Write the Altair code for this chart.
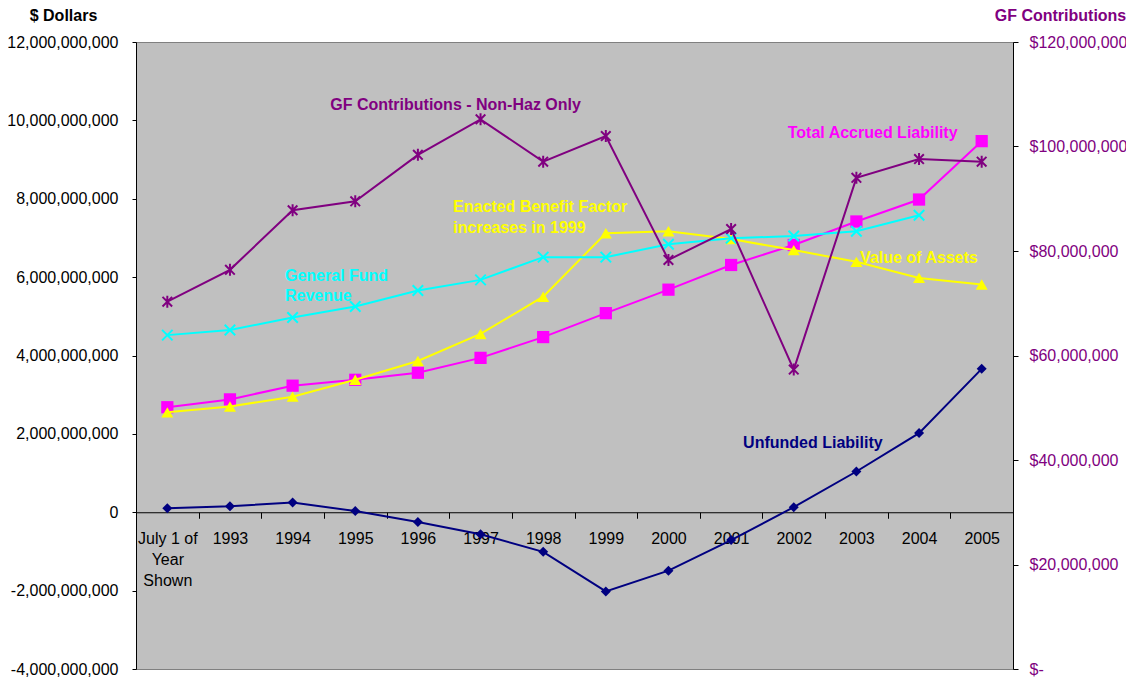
import altair as alt
import pandas as pd

# ---- data ----
years = ["July 1 of|Year|Shown", "1993", "1994", "1995", "1996", "1997", "1998",
         "1999", "2000", "2001", "2002", "2003", "2004", "2005"]

# left axis, billions of dollars
total_accrued = [2.68, 2.88, 3.23, 3.38, 3.56, 3.94, 4.47, 5.08, 5.68, 6.31, 6.82, 7.42, 7.98, 9.47]
value_assets = [2.55, 2.70, 2.95, 3.38, 3.86, 4.55, 5.50, 7.12, 7.17, 6.97, 6.69, 6.39, 5.98, 5.81]
gf_revenue = [4.52, 4.65, 4.97, 5.25, 5.66, 5.93, 6.51, 6.51, 6.84, 6.99, 7.05, 7.17, 7.58, None]
unfunded = [0.10, 0.15, 0.25, 0.03, -0.25, -0.56, -1.01, -2.02, -1.49, -0.71, 0.13, 1.04, 2.02, 3.66]
# right axis, millions of dollars
gf_contrib = [70.3, 76.4, 87.8, 89.5, 98.4, 105.2, 97.1, 102.0, 78.3, 84.2, 57.3, 94.0, 97.6, 97.1]

left_ticks = [-4e9, -2e9, 0, 2e9, 4e9, 6e9, 8e9, 10e9, 12e9]
right_ticks = [0, 20e6, 40e6, 60e6, 80e6, 100e6, 120e6]

# annotations: (group, anchor year, left-axis value in billions, text)
ann_group = ["gf", "ebf", "ebf", "gfr", "gfr", "tal", "voa", "ufl"]
ann_year = ["1995", "1997", "1997", "1994", "1994", "2002", "2003", "2001"]
ann_value = [10.38, 7.78, 7.25, 6.03, 5.51, 9.68, 6.50, 1.77]
ann_text = ["GF Contributions - Non-Haz Only", "Enacted Benefit Factor", "increases in 1999",
            "General Fund", "Revenue", "Total Accrued Liability", "Value of Assets",
            "Unfunded Liability"]

PURPLE = "#800080"
MAGENTA = "#FF00FF"
YELLOW = "#FFFF00"
CYAN = "#00FFFF"
NAVY = "#000080"
FONT = "Liberation Sans"

PLOT_W = 877
PLOT_H = 627
TOP = 34

rows = []
for name, vals in [("tal", total_accrued), ("voa", value_assets), ("gfr", gf_revenue), ("ufl", unfunded)]:
    for y, v in zip(years, vals):
        if v is not None:
            rows.append({"year": y, "series": name, "value": v * 1e9})
df_left = pd.DataFrame(rows)
df_right = pd.DataFrame({"year": years, "value": [v * 1e6 for v in gf_contrib]})
df_ann = pd.DataFrame({"group": ann_group, "year": ann_year,
                       "value": [v * 1e9 for v in ann_value], "text": ann_text})

x_axis = alt.Axis(title=None, orient="bottom", offset=-(PLOT_H * 4 / 16), labelAngle=0,
                  tickBand="extent", tickSize=6, labelPadding=12,
                  labelExpr="split(datum.label, '|')",
                  labelLineHeight=21, labelFontSize=16, labelFont=FONT, labelColor="black",
                  labelOverlap=False, labelFlush=False, labelBound=False,
                  domainColor="black", tickColor="black", grid=False)
X = alt.X("year:N", sort=years, bandPosition=0.5,
          scale=alt.Scale(type="band", paddingInner=0, paddingOuter=0), axis=x_axis)

left_axis = alt.Axis(orient="left", values=left_ticks, grid=False, tickSize=4, labelPadding=14,
                     labelExpr="(datum.value < 0 ? '-' : '') + format(abs(datum.value), ',')",
                     labelFontSize=16, labelFont=FONT, labelColor="black",
                     domainColor="black", tickColor="black",
                     title="$ Dollars", titleAngle=0, titleX=-73, titleY=7.5 - TOP,
                     titleAlign="center", titleBaseline="middle", titleFontSize=16,
                     titleFontWeight="bold", titleColor="black", titleFont=FONT)
Y_left = alt.Y("value:Q", scale=alt.Scale(domain=[-4e9, 12e9], nice=False, zero=False), axis=left_axis)

right_axis = alt.Axis(orient="right", values=right_ticks, grid=False, tickSize=5, labelPadding=11,
                      labelExpr="datum.value == 0 ? '$-' : '$' + format(datum.value, ',')",
                      labelFontSize=16, labelFont=FONT, labelColor=PURPLE,
                      domainColor="black", tickColor="black",
                      title="GF Contributions", titleAngle=0, titleX=47, titleY=7.5 - TOP,
                      titleAlign="center", titleBaseline="middle", titleFontSize=16,
                      titleFontWeight="bold", titleColor=PURPLE, titleFont=FONT)
Y_right = alt.Y("value:Q", scale=alt.Scale(domain=[0, 120e6], nice=False, zero=False), axis=right_axis)

STAR = "M-0.8,-0.8L0.8,0.8M-0.8,0.8L0.8,-0.8M0,-1L0,1"
XMARK = "M-1,-1L1,1M-1,1L1,-1"


def series(data, name, Y, color, shape, size, filled):
    base = alt.Chart(data)
    if name is not None:
        base = base.transform_filter(alt.datum.series == name)
    line = base.mark_line(color=color, strokeWidth=2).encode(x=X, y=Y)
    if filled:
        pts = base.mark_point(shape=shape, size=size, filled=True, fill=color, color=color,
                              opacity=1, strokeWidth=0).encode(x=X, y=Y)
    else:
        pts = base.mark_point(shape=shape, size=size, filled=False, color=color,
                              opacity=1, strokeWidth=2).encode(x=X, y=Y)
    return [line, pts]


def annotation(group, color, dx):
    return alt.Chart(df_ann).transform_filter(alt.datum.group == group).mark_text(
        align="left", baseline="middle", dx=dx, font=FONT, fontSize=16, fontWeight="bold",
        color=color).encode(x=X, y=Y_left, text="text:N")


left_layers = []
left_layers += series(df_left, "tal", Y_left, MAGENTA, "square", 150, True)
left_layers += series(df_left, "voa", Y_left, YELLOW, "triangle-up", 144, True)
left_layers += series(df_left, "gfr", Y_left, CYAN, XMARK, 110, False)
left_layers += series(df_left, "ufl", Y_left, NAVY, "diamond", 100, True)
left_layers += [
    annotation("gf", PURPLE, -25),
    annotation("ebf", YELLOW, -27.5),
    annotation("gfr", CYAN, -7.6),
    annotation("tal", MAGENTA, -6),
    annotation("voa", YELLOW, 3.6),
    annotation("ufl", NAVY, 12),
]
left_group = alt.layer(*left_layers)
right_group = alt.layer(*series(df_right, None, Y_right, PURPLE, STAR, 144, False))

chart = alt.layer(left_group, right_group).resolve_scale(y="independent").properties(
    width=PLOT_W, height=PLOT_H,
    padding={"left": 128, "top": TOP, "right": 113, "bottom": 8},
    autosize=alt.AutoSizeParams(type="none"),
).configure(background="white", font=FONT).configure_view(fill="#C0C0C0", stroke="#808080")

chart.save("out.html", embed_options={"renderer": "svg", "actions": False})
